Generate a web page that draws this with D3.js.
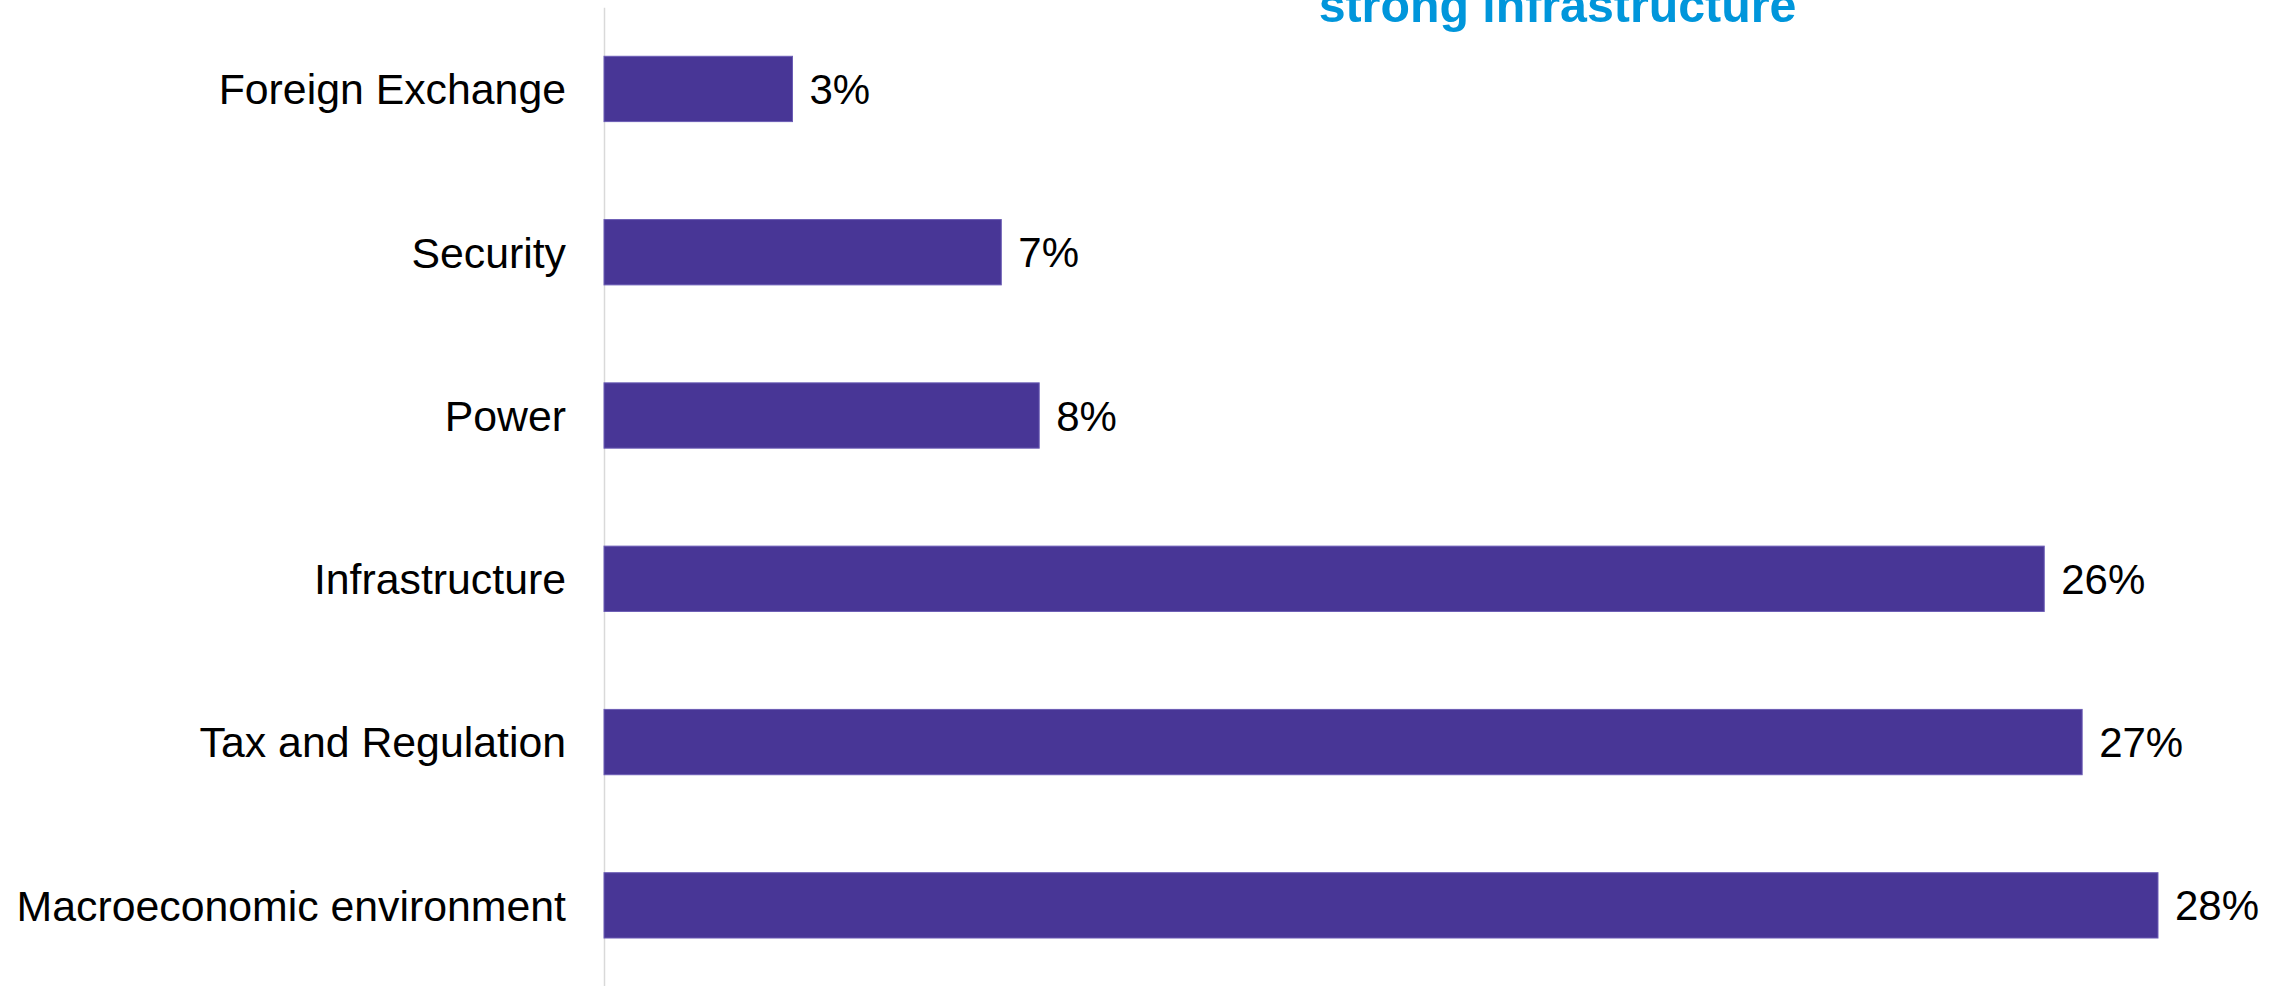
<!DOCTYPE html>
<html>
<head>
<meta charset="utf-8">
<script src="https://cdn.jsdelivr.net/npm/d3@7"></script>
<style>
  html, body { margin: 0; padding: 0; background: #ffffff; }
  svg { display: block; }
  text { font-family: "Liberation Sans", Arial, sans-serif; }
</style>
</head>
<body>
<svg id="chart" width="2285" height="986"></svg>
<script>
// Share of respondents naming each constraint (top to bottom)
const categories = [
  "Foreign Exchange",
  "Security",
  "Power",
  "Infrastructure",
  "Tax and Regulation",
  "Macroeconomic environment"
];
const shares = [0.0343, 0.0723, 0.0792, 0.2621, 0.2690, 0.2828];
const titleLines = ["strong infrastructure"];

const width = 2285, height = 986;
const svg = d3.select("#chart");

const x = d3.scaleLinear().domain([0, 0.30]).range([604, 2252.5]);
const y = d3.scaleBand()
  .domain(categories)
  .range([7.3, 987])
  .paddingInner(0.6)
  .paddingOuter(0.3);

const pct = d3.format(".0%");

// Category axis: labels plus the light vertical baseline
const yAxis = svg.append("g")
  .attr("transform", `translate(${x(0)},0)`)
  .call(d3.axisLeft(y).tickSize(0).tickSizeOuter(0).tickPadding(38));
yAxis.select(".domain").attr("stroke", "#d9d9d9").attr("stroke-width", 1.5);
yAxis.selectAll(".tick text")
  .attr("fill", "#000000")
  .style("font-size", "42.8px")
  .attr("dy", "0.36em");

// Bars
svg.append("g").selectAll("rect")
  .data(categories)
  .join("rect")
  .attr("x", x(0))
  .attr("y", d => y(d))
  .attr("width", (d, i) => x(shares[i]) - x(0))
  .attr("height", y.bandwidth())
  .attr("fill", "#483696")
  .attr("stroke", "#6b5cb5")
  .attr("stroke-width", 1);

// Value labels
svg.append("g").selectAll("text")
  .data(categories)
  .join("text")
  .attr("x", (d, i) => x(shares[i]) + 17)
  .attr("y", d => y(d) + y.bandwidth() / 2)
  .attr("dy", "0.36em")
  .attr("fill", "#000000")
  .style("font-size", "42px")
  .text((d, i) => pct(shares[i]));

// Title (upper lines run off the top edge)
svg.append("g").selectAll("text")
  .data(titleLines)
  .join("text")
  .attr("x", 1557.5)
  .attr("y", 21.5)
  .attr("text-anchor", "middle")
  .attr("fill", "#0096db")
  .style("font-size", "48.3px")
  .style("font-weight", "bold")
  .text(d => d);
</script>
</body>
</html>
